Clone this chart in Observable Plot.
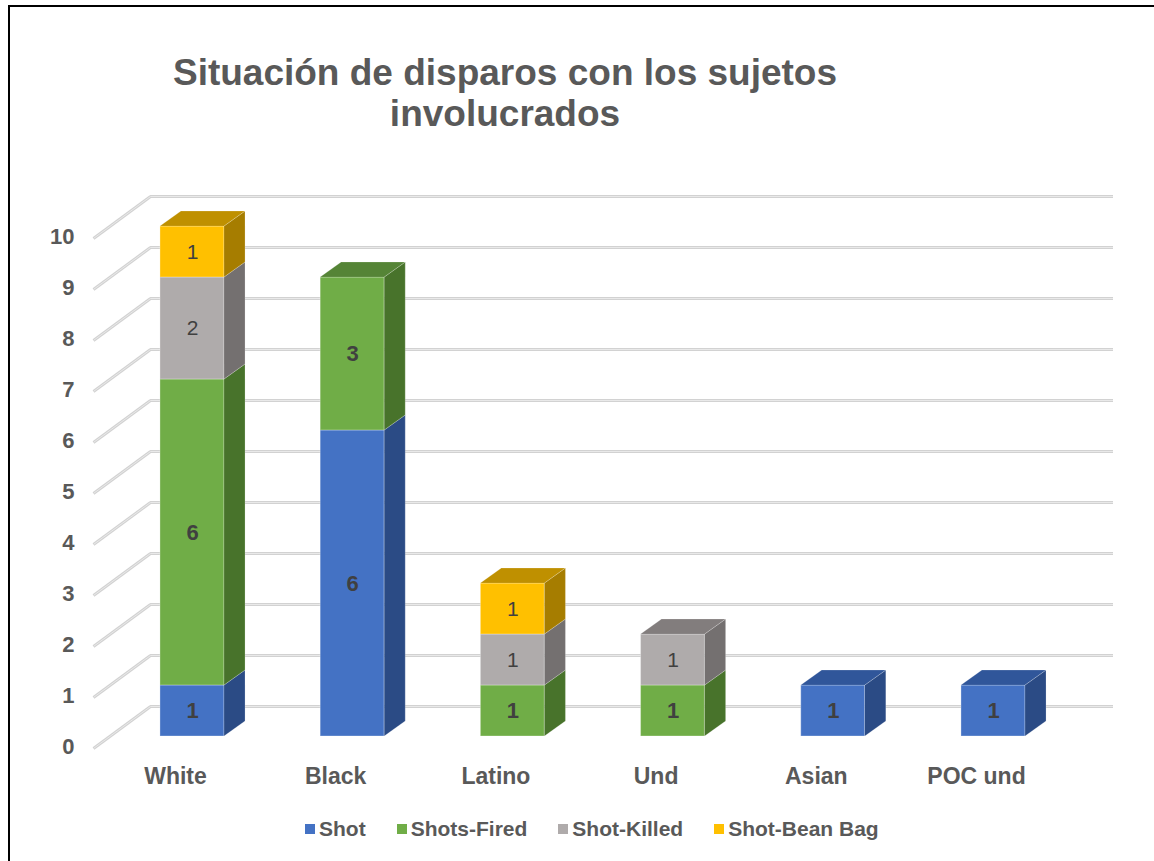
<!DOCTYPE html>
<html>
<head>
<meta charset="utf-8">
<script src="https://cdn.jsdelivr.net/npm/d3@7"></script>
<script src="https://cdn.jsdelivr.net/npm/@observablehq/plot@0.6"></script>
<style>
  html, body { margin: 0; padding: 0; background: #fff; overflow: hidden; }
  #wrap { position: relative; width: 1154px; height: 861px; overflow: hidden; font-family: Arial, "Liberation Sans", sans-serif; }
  #frame { position: absolute; left: 8px; top: 5px; width: 1200px; height: 900px; border-left: 2px solid #000; border-top: 2px solid #000; box-sizing: border-box; }
  #title { position: absolute; left: 0; top: 52px; width: 1010px; text-align: center; font-size: 37px; line-height: 41px; font-weight: bold; color: #595959; }
  #chart { position: absolute; left: 0; top: 0; }
  #legend { position: absolute; left: 305px; top: 817px; display: flex; align-items: center; font-size: 21px; font-weight: bold; color: #595959; white-space: nowrap; }
  #legend .item { display: flex; align-items: center; margin-right: 31px; }
  #legend .sw { width: 10px; height: 10px; margin-right: 4px; }
</style>
</head>
<body>
<div id="wrap">
  <div id="frame"></div>
  <div id="chart"></div>
  <div id="title">Situación de disparos con los sujetos<br>involucrados</div>
  <div id="legend"></div>
</div>
<script>
// ---- data ----
const categories = ["White", "Black", "Latino", "Und", "Asian", "POC und"];
const seriesNames = ["Shot", "Shots-Fired", "Shot-Killed", "Shot-Bean Bag"];
const shot        = [1, 6, 0, 0, 1, 1];
const shotsFired  = [6, 3, 1, 1, 0, 0];
const shotKilled  = [2, 0, 1, 1, 0, 0];
const shotBeanBag = [1, 0, 1, 0, 0, 0];
const yTicks = [0, 1, 2, 3, 4, 5, 6, 7, 8, 9, 10];

// ---- styles ----
const frontColors = ["#4472C4", "#70AD47", "#AFABAB", "#FFC000"];
const sideColors  = ["#2B4B85", "#48732B", "#747070", "#A67D00"];
const topColors   = ["#30569A", "#558436", "#827D7D", "#BF9000"];
const HW = 0.2;      // half bar width (x units)
const DX = 0.131;    // 3D depth offset x (x units)
const DY = 0.294;    // 3D depth offset y (y units)

// ---- derived stacked segments ----
const seriesValues = [shot, shotsFired, shotKilled, shotBeanBag];
const segs = [];
const tops = [];
categories.forEach((c, i) => {
  let base = 0, last = null;
  seriesValues.forEach((vals, s) => {
    const v = vals[i];
    if (v > 0) {
      last = {cat: c, i, s, series: seriesNames[s], value: v, y1: base, y2: base + v};
      segs.push(last);
      base += v;
    }
  });
  if (last) tops.push(last);
});
const sidePts = segs.flatMap(d => [
  {key: d.cat + "|" + d.s, s: d.s, x: d.i + HW, y1: d.y1, y2: d.y2},
  {key: d.cat + "|" + d.s, s: d.s, x: d.i + HW + DX, y1: d.y1 + DY, y2: d.y2 + DY}
]);
const topPts = tops.flatMap(d => [
  {key: d.cat, s: d.s, y: d.y2, x1: d.i - HW, x2: d.i + HW},
  {key: d.cat, s: d.s, y: d.y2 + DY, x1: d.i - HW + DX, x2: d.i + HW + DX}
]);

const gridStroke = "#d2d2d2";

const chart = Plot.plot({
  width: 1154,
  height: 861,
  marginLeft: 77,
  marginRight: 40,
  marginTop: 150,
  marginBottom: 125,
  style: {background: "transparent", fontFamily: "Arial, 'Liberation Sans', sans-serif", overflow: "visible"},
  x: {type: "linear", domain: [0, 5], range: [192, 993], axis: null},
  y: {domain: [0, 10], range: [736, 226], axis: null},
  color: {type: "ordinal", domain: seriesNames, range: frontColors},
  marks: [
    // back wall gridlines
    Plot.ruleY(yTicks, {y: d => d + 0.588, x1: -0.262, x2: 5.749, stroke: gridStroke, strokeWidth: 3}),
    Plot.ruleY(yTicks, {y: d => d + 0.588, x1: -0.262, x2: 5.749, stroke: "#e9e9e9", strokeWidth: 1}),
    // side wall diagonals
    Plot.link(yTicks, {x1: -0.618, y1: d => d - 0.235, x2: -0.262, y2: d => d + 0.588, stroke: gridStroke, strokeWidth: 3}),
    Plot.link(yTicks, {x1: -0.618, y1: d => d - 0.235, x2: -0.262, y2: d => d + 0.588, stroke: "#e9e9e9", strokeWidth: 1}),
    // y axis labels
    Plot.axisY({ticks: yTicks, tickSize: 0, tickPadding: 3, dy: 10, fontSize: 22, fontWeight: "bold", color: "#595959", label: null}),
    // x axis labels
    Plot.axisX({ticks: [0, 1, 2, 3, 4, 5], tickFormat: i => categories[i], tickSize: 0, tickPadding: 31, dx: -17, fontSize: 23, fontWeight: "bold", color: "#595959", label: null}),
    // front faces
    Plot.rect(segs, {x1: d => d.i - HW, x2: d => d.i + HW, y1: "y1", y2: "y2", fill: "series", stroke: "#ffffff", strokeOpacity: 0.3, strokeWidth: 1}),
    // side faces
    ...seriesNames.map((n, s) => Plot.areaY(sidePts.filter(p => p.s === s), {x: "x", y1: "y1", y2: "y2", z: "key", fill: sideColors[s], stroke: "#ffffff", strokeOpacity: 0.2, strokeWidth: 1, curve: "linear"})),
    // top faces
    ...seriesNames.map((n, s) => Plot.areaX(topPts.filter(p => p.s === s), {y: "y", x1: "x1", x2: "x2", z: "key", fill: topColors[s], stroke: "#ffffff", strokeOpacity: 0.2, strokeWidth: 1, curve: "linear"})),
    // value labels
    Plot.text(segs.filter(d => d.s < 2), {x: "i", y: d => (d.y1 + d.y2) / 2, text: d => String(d.value), fontSize: 22, fontWeight: "bold", fill: "#404040"}),
    Plot.text(segs.filter(d => d.s >= 2), {x: "i", y: d => (d.y1 + d.y2) / 2, text: d => String(d.value), fontSize: 21, fontWeight: "normal", fill: "#404040"})
  ]
});
document.getElementById("chart").appendChild(chart);

// legend
const legend = document.getElementById("legend");
seriesNames.forEach((n, s) => {
  const item = document.createElement("div");
  item.className = "item";
  const sw = document.createElement("span");
  sw.className = "sw";
  sw.style.background = frontColors[s];
  const label = document.createElement("span");
  label.textContent = n;
  item.appendChild(sw);
  item.appendChild(label);
  legend.appendChild(item);
});
</script>
</body>
</html>
